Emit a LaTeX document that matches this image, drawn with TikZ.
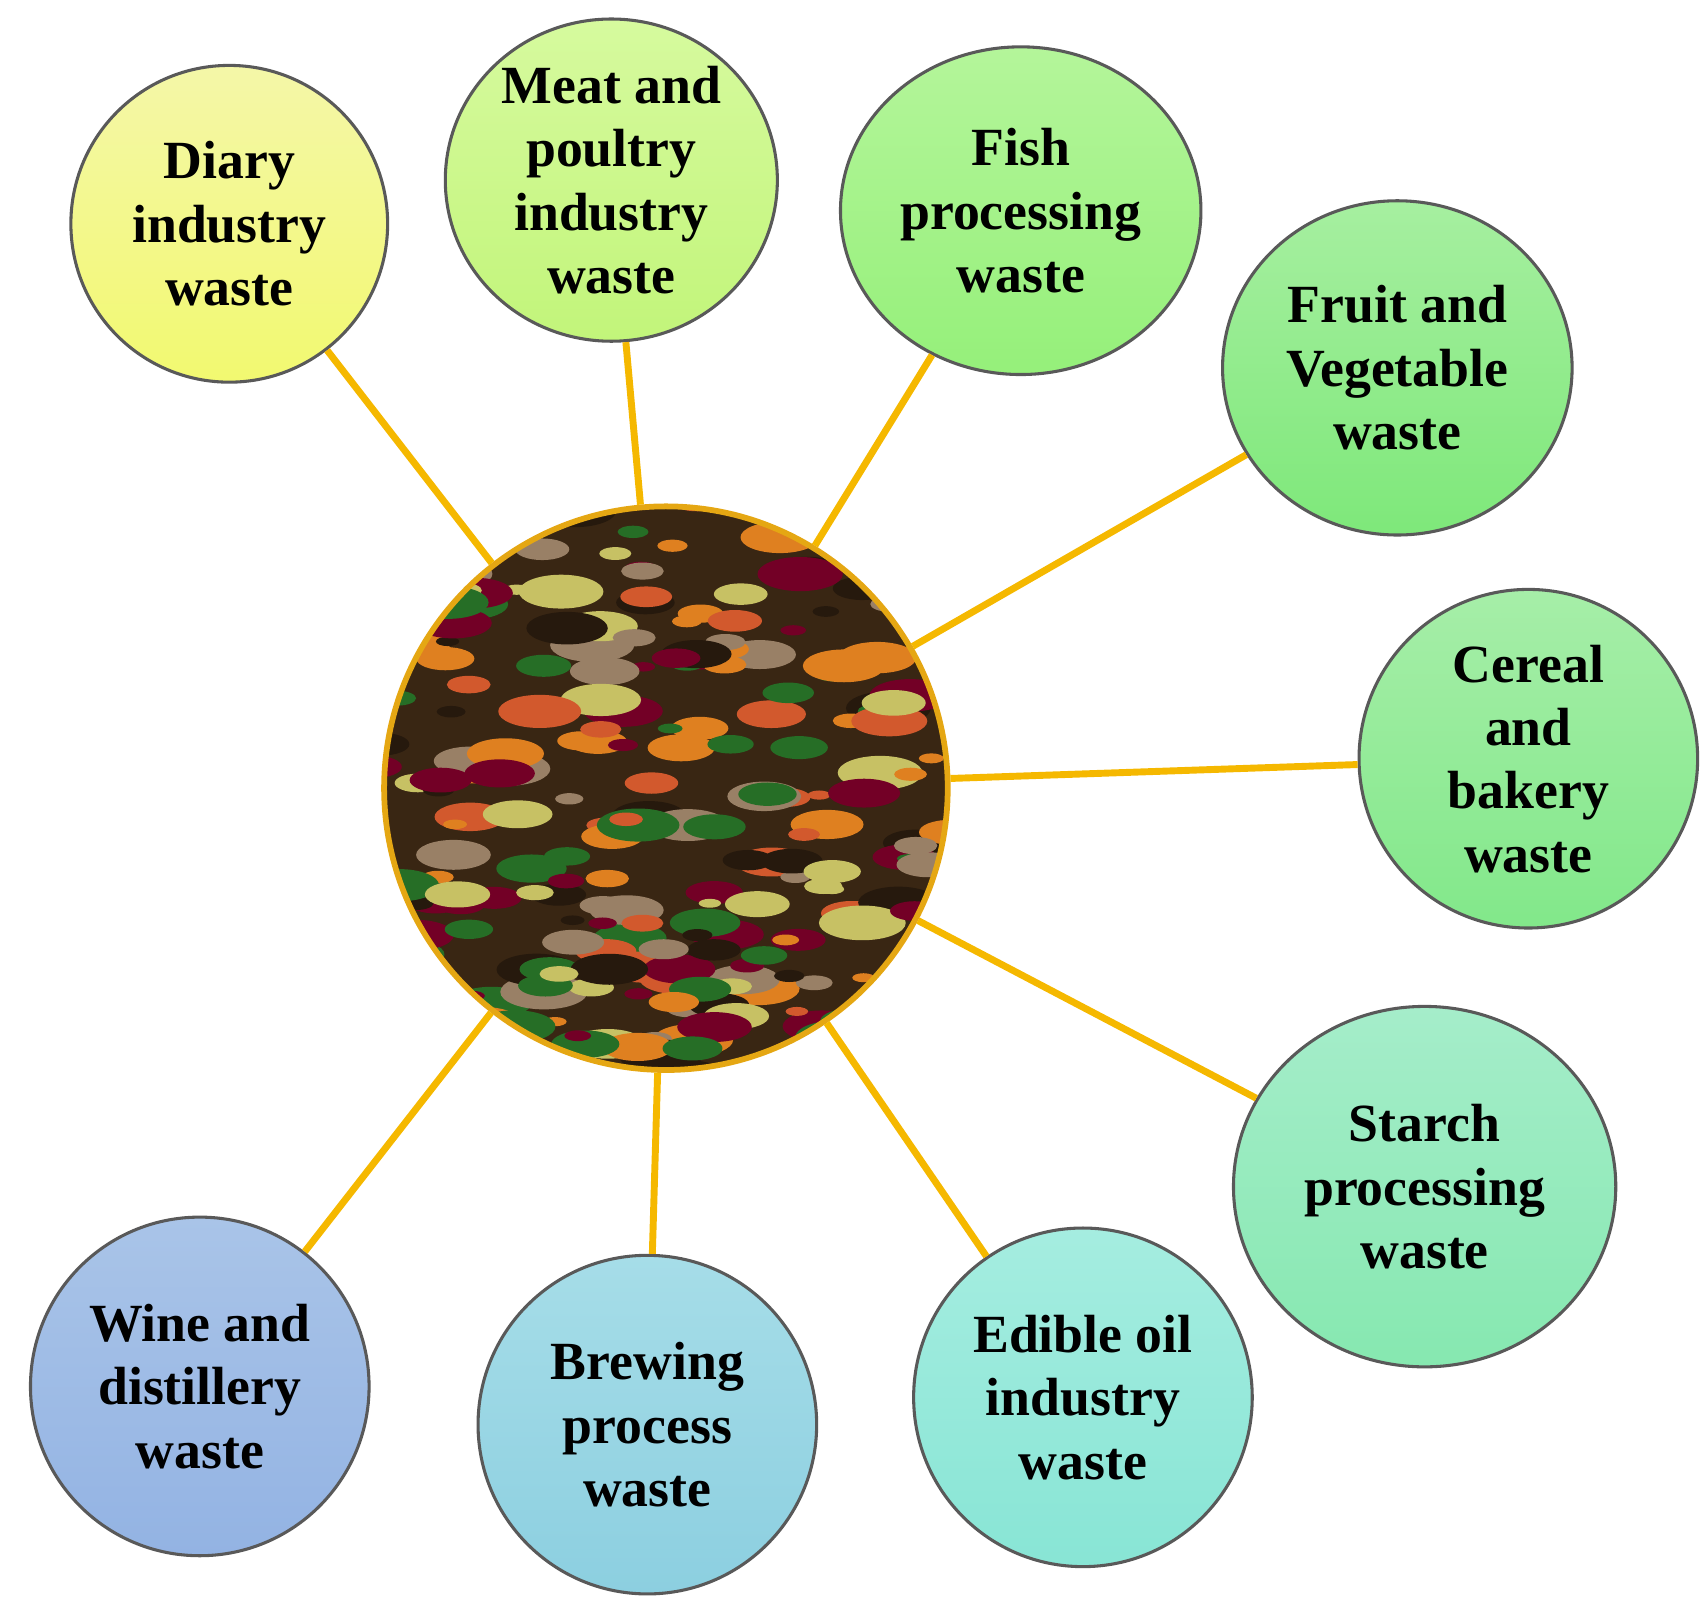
\documentclass[tikz,border=0pt]{standalone}
\usepackage{fontspec}
\setmainfont{Liberation Serif}
\usetikzlibrary{shapes.geometric}
\definecolor{gold}{HTML}{F5B800}
\begin{document}
\begin{tikzpicture}[x=0.01cm,y=-0.01cm,
  bub/.style={ellipse,draw=gray!70!black,line width=0.8pt,align=center,
    font=\fontsize{14}{16.5}\selectfont\bfseries,inner sep=0pt},
  link/.style={draw=gold,line width=1.8pt}]
\useasboundingbox (0,0) rectangle (1560,1470);
\pgfmathsetseed{7}
\node[circle,minimum size=5.16cm,draw=gold!70!brown,line width=1.5pt,
  path picture={
    \fill[black!70!brown] (path picture bounding box.south west) rectangle (path picture bounding box.north east);
    \foreach \i in {1,...,260}{
      \pgfmathsetmacro{\px}{rnd*5.4-2.7}
      \pgfmathsetmacro{\py}{rnd*5.4-2.7}
      \pgfmathsetmacro{\rr}{rnd*0.12+0.04}
      \pgfmathsetmacro{\ang}{rnd*180}
      \pgfmathtruncatemacro{\k}{int(rnd*7)}
      \ifcase\k \def\cc{brown!70!red}\or\def\cc{green!40!black!70!gray}\or\def\cc{orange!50!brown}\or\def\cc{purple!60!black}\or\def\cc{olive!50!white}\or\def\cc{black!80!brown}\else\def\cc{gray!60!brown}\fi
      \fill[\cc,rotate around={\ang:([shift={(\px cm,\py cm)}]path picture bounding box.center)}]
        ([shift={(\px cm,\py cm)}]path picture bounding box.center) ellipse ({\rr*2.5cm} and {\rr cm});
    }
  }] (c) at (610,722) {};
\node[bub,minimum width=2.9cm,minimum height=2.9cm,top color={rgb,255:red,244;green,247;blue,168},bottom color={rgb,255:red,242;green,249;blue,112}] (a1) at (210,205) {Diary\\industry\\waste};
\node[bub,minimum width=3.04cm,minimum height=2.9cm,top color={rgb,255:red,214;green,250;blue,158},bottom color={rgb,255:red,194;green,245;blue,122}] (a2) at (560,165) {Meat and\\poultry\\industry\\waste};
\node[bub,minimum width=3.3cm,minimum height=3.0cm,top color={rgb,255:red,180;green,245;blue,154},bottom color={rgb,255:red,149;green,240;blue,122}] (a3) at (935,193) {Fish\\processing\\waste};
\node[bub,minimum width=3.2cm,minimum height=3.06cm,top color={rgb,255:red,166;green,239;blue,160},bottom color={rgb,255:red,126;green,232;blue,122}] (a4) at (1280,337) {Fruit and\\Vegetable\\waste};
\node[bub,minimum width=3.1cm,minimum height=3.1cm,top color={rgb,255:red,166;green,238;blue,168},bottom color={rgb,255:red,130;green,232;blue,138}] (a5) at (1400,695) {Cereal\\and\\bakery\\waste};
\node[bub,minimum width=3.5cm,minimum height=3.3cm,top color={rgb,255:red,165;green,237;blue,202},bottom color={rgb,255:red,134;green,232;blue,176}] (a6) at (1305,1087) {Starch\\processing\\waste};
\node[bub,minimum width=3.1cm,minimum height=3.1cm,top color={rgb,255:red,165;green,237;blue,224},bottom color={rgb,255:red,136;green,229;blue,213}] (a7) at (992,1280) {Edible oil\\industry\\waste};
\node[bub,minimum width=3.1cm,minimum height=3.1cm,top color={rgb,255:red,166;green,221;blue,232},bottom color={rgb,255:red,140;green,207;blue,224}] (a8) at (593,1305) {Brewing\\process\\waste};
\node[bub,minimum width=3.1cm,minimum height=3.1cm,top color={rgb,255:red,169;green,196;blue,232},bottom color={rgb,255:red,147;green,179;blue,227}] (a9) at (183,1270) {Wine and\\distillery\\waste};
\foreach \n in {1,...,9}{\draw[link] (c) -- (a\n);}
\end{tikzpicture}
\end{document}
